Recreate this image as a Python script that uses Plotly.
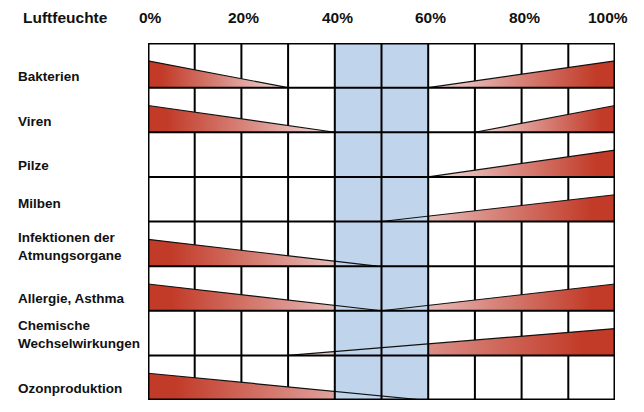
import plotly.graph_objects as go

# ---------------- data ----------------
categories = [
    "Bakterien",
    "Viren",
    "Pilze",
    "Milben",
    "Infektionen der<br>Atmungsorgane",
    "Allergie, Asthma",
    "Chemische<br>Wechselwirkungen",
    "Ozonproduktion",
]
# humidity (%) where the low-humidity risk wedge fades out (None = no wedge)
left_zero = [30, 40, None, None, 49, 50, None, 59]
# humidity (%) where the high-humidity risk wedge starts (None = no wedge)
right_zero = [60, 70, 60, 50, None, 50, 30, None]
tick_values = [0, 20, 40, 60, 80, 100]
tick_labels = ["0%", "20%", "40%", "60%", "80%", "100%"]
optimum_low = 40
optimum_high = 60
axis_title = "Luftfeuchte"

# ---------------- style ----------------
OFF = 8  # page body margin in the browser
W, H = 644 - OFF, 412 - OFF
ML, MR, MT, MB = 148 - OFF, 29, 43 - OFF, 12
TRI_H = 0.6
DARK = "#c23b28"
MIDC = "#d98a82"
LIGHT = "rgba(244,224,222,1)"
BLUE = "#c0d5ec"
FONT = "Liberation Sans, Arial, sans-serif"
label_dy = [0.74, 0.75, 0.75, 0.6, 0.57, 0.72, 0.54, 0.74]
n = len(categories)

fig = go.Figure()

# risk wedges
for i in range(n):
    yb = i + 1
    yt = i + 1 - TRI_H
    L = left_zero[i]
    R = right_zero[i]
    if L is not None:
        fig.add_trace(go.Scatter(
            x=[0, 0, L, 0], y=[yb, yt, yb, yb], mode="lines",
            fill="toself", line=dict(width=0),
            fillgradient=dict(type="horizontal",
                              colorscale=[[0, DARK], [0.1, DARK], [0.55, MIDC], [1, LIGHT]]),
            hoverinfo="skip", showlegend=False))
    if R is not None:
        fig.add_trace(go.Scatter(
            x=[R, 100, 100, R], y=[yb, yt, yb, yb], mode="lines",
            fill="toself", line=dict(width=0),
            fillgradient=dict(type="horizontal",
                              colorscale=[[0, LIGHT], [0.45, MIDC], [0.9, DARK], [1, DARK]]),
            hoverinfo="skip", showlegend=False))

# optimum band (over the wedges)
fig.add_trace(go.Scatter(
    x=[optimum_low, optimum_high, optimum_high, optimum_low, optimum_low],
    y=[0, 0, n, n, 0], mode="lines", fill="toself", fillcolor=BLUE,
    line=dict(width=0), hoverinfo="skip", showlegend=False))

# wedge edges
for i in range(n):
    yb = i + 1
    yt = i + 1 - TRI_H
    L = left_zero[i]
    R = right_zero[i]
    if L is not None:
        fig.add_trace(go.Scatter(x=[0, L], y=[yt, yb], mode="lines",
                                 line=dict(color="#111", width=1.2),
                                 hoverinfo="skip", showlegend=False))
    if R is not None:
        fig.add_trace(go.Scatter(x=[R, 100], y=[yb, yt], mode="lines",
                                 line=dict(color="#111", width=1.2),
                                 hoverinfo="skip", showlegend=False))

# grid: verticals outside the optimum band sit below the wedges
shapes = []
for xv in range(10, 100, 10):
    inside = optimum_low <= xv <= optimum_high
    shapes.append(dict(type="line", x0=xv, x1=xv, y0=0, y1=n, xref="x", yref="y",
                       line=dict(color="black", width=2),
                       layer="above" if inside else "below"))
for yv in range(1, n):
    shapes.append(dict(type="line", x0=0, x1=100, y0=yv, y1=yv, xref="x", yref="y",
                       line=dict(color="black", width=2), layer="above"))
shapes.append(dict(type="rect", x0=0, x1=100, y0=0, y1=n, xref="x", yref="y",
                   line=dict(color="black", width=3), layer="above"))

annotations = []
plot_w = W - ML - MR
plot_h = H - MT - MB
top_y = 1 + (43 - 17) / plot_h
annotations.append(dict(text="<b>" + axis_title + "</b>", x=(65 - 148) / plot_w, y=top_y,
                        xref="paper", yref="paper", xanchor="center", yanchor="middle",
                        showarrow=False, font=dict(family=FONT, size=15.5, color="#111")))
for k, (tv, tl) in enumerate(zip(tick_values, tick_labels)):
    if k == len(tick_values) - 1:
        annotations.append(dict(text="<b>" + tl + "</b>", x=tv, y=top_y, xref="x", yref="paper",
                                xanchor="right", yanchor="middle", xshift=15, showarrow=False,
                                font=dict(family=FONT, size=15.5, color="#111")))
    else:
        annotations.append(dict(text="<b>" + tl + "</b>", x=tv, y=top_y, xref="x", yref="paper",
                                xanchor="center", yanchor="middle", xshift=2.5, showarrow=False,
                                font=dict(family=FONT, size=15.5, color="#111")))
for i, c in enumerate(categories):
    annotations.append(dict(text="<b>" + c + "</b>", x=(16 - 148) / plot_w, y=i + label_dy[i],
                            xref="paper", yref="y", xanchor="left", yanchor="middle",
                            align="left", showarrow=False,
                            font=dict(family=FONT, size=13.5, color="#111")))

fig.update_layout(
    width=W, height=H,
    margin=dict(l=ML, r=MR, t=MT, b=MB),
    paper_bgcolor="white", plot_bgcolor="white",
    xaxis=dict(range=[0, 100], visible=False, fixedrange=True),
    yaxis=dict(range=[n, 0], visible=False, fixedrange=True),
    shapes=shapes, annotations=annotations, showlegend=False,
)
fig.write_html("out.html")
